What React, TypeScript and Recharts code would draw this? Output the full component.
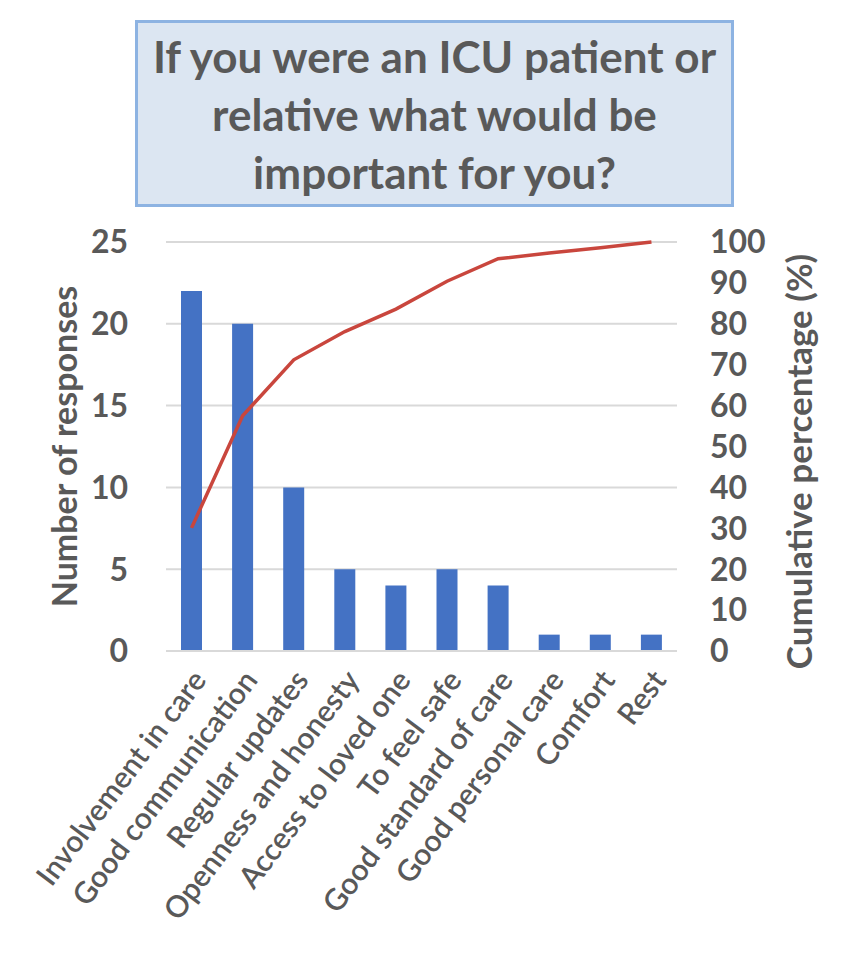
import React from "react";
import {
  ComposedChart,
  Bar,
  Line,
  XAxis,
  YAxis,
  CartesianGrid,
} from "recharts";

const categories = [
  "Involvement in care",
  "Good communication",
  "Regular updates",
  "Openness and honesty",
  "Access to loved one",
  "To feel safe",
  "Good standard of care",
  "Good personal care",
  "Comfort",
  "Rest",
];
const responses = [22, 20, 10, 5, 4, 5, 4, 1, 1, 1];
const cumulativePct = [30.1, 57.5, 71.2, 78.1, 83.6, 90.4, 95.9, 97.3, 98.6, 100];
const leftTicks = [0, 5, 10, 15, 20, 25];
const rightTicks = [0, 10, 20, 30, 40, 50, 60, 70, 80, 90, 100];
const titleLines = ["If you were an ICU patient or", "relative what would be", "important for you?"];

const data = categories.map((c, i) => ({
  name: c,
  responses: responses[i],
  cum: cumulativePct[i],
}));

const FONT = "Lato, 'Open Sans', sans-serif";
const GRAY = "#595959";

const XTick = (props: any) => {
  const { x, y, payload } = props;
  return (
    <g transform={`translate(${x + 10},${y + 17})`}>
      <text
        transform="rotate(-53)"
        textAnchor="end"
        dominantBaseline="middle"
        fill={GRAY}
        fontSize={30}
        fontFamily={FONT}
        fontWeight={600}
      >
        {payload.value}
      </text>
    </g>
  );
};

export default function App() {
  return (
    <div
      style={{
        position: "relative",
        width: 847,
        height: 955,
        margin: -8,
        background: "#fff",
        fontFamily: FONT,
      }}
    >
      <div
        style={{
          position: "absolute",
          left: 3,
          top: 5,
          width: 839,
          height: 945,
          border: "1.5px solid #d9d9d9",
          boxSizing: "border-box",
        }}
      />
      <div
        style={{
          position: "absolute",
          left: 135,
          top: 20,
          width: 599,
          height: 187,
          background: "#dce6f2",
          border: "3px solid #8db3e2",
          boxSizing: "border-box",
          display: "flex",
          flexDirection: "column",
          alignItems: "center",
          justifyContent: "center",
          color: GRAY,
          fontWeight: 700,
          fontSize: 44,
          lineHeight: "58px",
          whiteSpace: "nowrap",
        }}
      >
        {titleLines.map((t) => (
          <div key={t}>{t}</div>
        ))}
      </div>
      <ComposedChart
        width={847}
        height={955}
        data={data}
        margin={{ top: 242, right: 0, bottom: 0, left: 0 }}
        style={{ position: "absolute", left: 0, top: 0, fontFamily: FONT }}
      >
        <CartesianGrid vertical={false} stroke="#d9d9d9" strokeWidth={2} yAxisId="left" />
        <XAxis
          dataKey="name"
          interval={0}
          tick={<XTick />}
          tickLine={false}
          axisLine={{ stroke: "#d9d9d9", strokeWidth: 2 }}
          height={304}
        />
        <YAxis
          yAxisId="left"
          orientation="left"
          domain={[0, 25]}
          ticks={leftTicks}
          interval={0}
          width={166}
          tickLine={false}
          axisLine={false}
          tickSize={0}
          tickMargin={38}
          tick={{ fill: GRAY, fontSize: 32, fontWeight: 700, fontFamily: FONT }}
          label={{
            value: "Number of responses",
            angle: -90,
            position: "insideLeft",
            offset: 0,
            dx: 65,
            style: { fill: GRAY, fontSize: 34, fontWeight: 700, fontFamily: FONT, textAnchor: "middle" },
          }}
        />
        <YAxis
          yAxisId="right"
          orientation="right"
          domain={[0, 100]}
          ticks={rightTicks}
          interval={0}
          width={170}
          tickLine={false}
          axisLine={false}
          tickSize={0}
          tickMargin={33}
          tick={{ fill: GRAY, fontSize: 32, fontWeight: 700, fontFamily: FONT }}
          label={{
            value: "Cumulative percentage (%)",
            angle: -90,
            position: "insideRight",
            offset: 0,
            dx: -47,
            dy: 15,
            style: { fill: GRAY, fontSize: 35, fontWeight: 700, fontFamily: FONT, textAnchor: "middle" },
          }}
        />
        <Bar
          yAxisId="left"
          dataKey="responses"
          fill="#4472c4"
          barSize={21}
          isAnimationActive={false}
        />
        <Line
          yAxisId="right"
          dataKey="cum"
          type="linear"
          stroke="#c9463d"
          strokeWidth={3.5}
          dot={false}
          isAnimationActive={false}
        />
      </ComposedChart>
    </div>
  );
}
